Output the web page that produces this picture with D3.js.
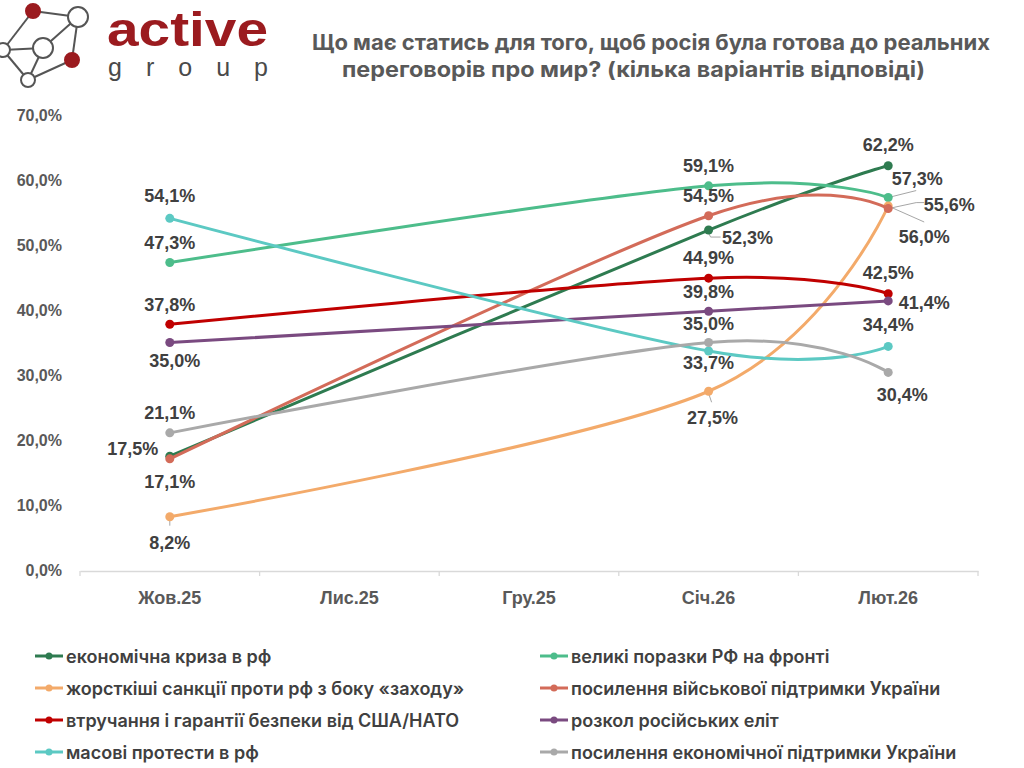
<!DOCTYPE html>
<html>
<head>
<meta charset="utf-8">
<script src="https://cdn.jsdelivr.net/npm/d3@7"></script>
<style>
  body { margin: 0; background: #ffffff; }
</style>
</head>
<body>
<script>
// dati (null = mese senza rilevazione)
var months = ["Жов.25", "Лис.25", "Гру.25", "Січ.26", "Лют.26"];

var seriesNames = [
  "економічна криза в рф",
  "великі поразки РФ на фронті",
  "жорсткіші санкції проти рф з боку «заходу»",
  "посилення військової підтримки України",
  "втручання і гарантії безпеки від США/НАТО",
  "розкол російських еліт",
  "масові протести в рф",
  "посилення економічної підтримки України"
];

var econCrisis     = [17.5, null, null, 52.3, 62.2];
var frontDefeats   = [47.3, null, null, 59.1, 57.3];
var sanctions      = [8.2,  null, null, 27.5, 56.0];
var militaryAid    = [17.1, null, null, 54.5, 55.6];
var usNatoGuar     = [37.8, null, null, 44.9, 42.5];
var eliteSplit     = [35.0, null, null, 39.8, 41.4];
var massProtests   = [54.1, null, null, 33.7, 34.4];
var economicAid    = [21.1, null, null, 35.0, 30.4];

var yTicks = [0, 10, 20, 30, 40, 50, 60, 70];

var allSeries = [econCrisis, frontDefeats, sanctions, militaryAid, usNatoGuar, eliteSplit, massProtests, economicAid];

var colors = ["#2e7b50", "#4dbd8b", "#f3aa6a", "#d36b59", "#c00000", "#7a4a80", "#5cc9c3", "#a9a9a9"];

// posizione delle etichette rispetto al punto [dx, dy, leader?]  (per mese con dato)
var labelPos = [
  [[-37, -7], null, null, [39, 8, [[0, 3], [2, 7], [12, 7]]], [0, -21]],
  [[0, -20], null, null, [0, -20], [29, -19, [[0, 0], [28, -7]]]],
  [[0, 26, [[0, 2], [0, 9]]], null, null, [4, 27, [[0, 2], [3, 11]]], [36, 31, [[0, 0], [36, 16]]]],
  [[0, 23], null, null, [0, -20], [61, -4, [[0, 0], [28, -6], [36, -6]]]],
  [[0, -19], null, null, [0, -20], [0, -21]],
  [[5, 18], null, null, [0, -19], [36, 2]],
  [[0, -22], null, null, [0, 12], [0, -21]],
  [[0, -20], null, null, [0, -19], [14, 23]]
];

var svg = d3.select("body").append("svg")
  .attr("width", 1024)
  .attr("height", 768);

/* logo */
var logo = svg.append("g").attr("class", "logo");
var nodes = [[33, 11, 7, true], [78, 17, 10, false], [3, 50, 7, false], [43, 48, 10, false], [72, 60, 7, true], [28, 80, 7, false]];
var edges = [[0, 1], [0, 2], [1, 3], [1, 4], [2, 3], [3, 5], [2, 5], [5, 4]];
logo.selectAll("line").data(edges).enter().append("line")
  .attr("x1", function(d){ return nodes[d[0]][0]; })
  .attr("y1", function(d){ return nodes[d[0]][1]; })
  .attr("x2", function(d){ return nodes[d[1]][0]; })
  .attr("y2", function(d){ return nodes[d[1]][1]; })
  .style("stroke", "#555").style("stroke-width", 2);
logo.selectAll("circle").data(nodes).enter().append("circle")
  .attr("cx", function(d){ return d[0]; })
  .attr("cy", function(d){ return d[1]; })
  .attr("r", function(d){ return d[2]; })
  .style("fill", function(d){ return d[3] ? "#9b1b1f" : "#fff"; })
  .style("stroke", function(d){ return d[3] ? "#9b1b1f" : "#555"; })
  .style("stroke-width", 2);
logo.append("text").attr("x", 107).attr("y", 46)
  .attr("textLength", 161).attr("lengthAdjust", "spacingAndGlyphs")
  .style("font-family", "Liberation Sans, Arial, sans-serif")
  .style("font-weight", "bold").style("font-size", "48px")
  .style("fill", "#9b1b1f").text("active");
logo.append("text").attr("x", 108).attr("y", 76)
  .attr("textLength", 160).attr("lengthAdjust", "spacing")
  .style("font-family", "Liberation Sans, Arial, sans-serif")
  .style("font-size", "25px")
  .style("fill", "#4a4a4a").text("group");

/* titolo */
var titleLines = [
  ["Що має статись для того, щоб росія була готова до реальних", 312, 50, 678],
  ["переговорів про мир? (кілька варіантів відповіді)", 342, 77, 583]
];
svg.selectAll(".title").data(titleLines).enter().append("text")
  .attr("class", "title")
  .attr("x", function(d){ return d[1]; })
  .attr("y", function(d){ return d[2]; })
  .attr("textLength", function(d){ return d[3]; })
  .attr("lengthAdjust", "spacingAndGlyphs")
  .style("font-family", "Inter, sans-serif")
  .style("font-weight", "bold").style("font-size", "21px")
  .style("fill", "#595959")
  .text(function(d){ return d[0]; });

/* scale */
var x = d3.scaleBand().domain(months).range([80, 978]);
var y = d3.scaleLinear().domain([0, 70]).range([570, 115]);
function cx(m){ return x(m) + x.bandwidth() / 2; }

var locale = d3.formatLocale({decimal: ",", thousands: " ", grouping: [3], currency: ["", ""]});
var fmt = locale.format(".1f");

/* asse y (solo etichette) */
svg.selectAll(".ytick").data(yTicks).enter().append("text")
  .attr("class", "ytick")
  .attr("x", 62)
  .attr("y", function(d){ return y(d); })
  .attr("text-anchor", "end")
  .attr("dominant-baseline", "central")
  .style("font-family", "Liberation Sans, Arial, sans-serif")
  .style("font-weight", "bold").style("font-size", "16px")
  .style("fill", "#595959")
  .text(function(d){ return fmt(d) + "%"; });

/* asse x */
var xAxis = svg.append("g").attr("transform", "translate(0, 571)")
  .call(d3.axisBottom(x).tickSize(0).tickPadding(20));
xAxis.select(".domain").style("stroke", "#d9d9d9").style("stroke-width", 1.3);
xAxis.selectAll("text")
  .style("font-family", "Liberation Sans, Arial, sans-serif")
  .style("font-weight", "bold").style("font-size", "18px")
  .style("fill", "#595959");
var bounds = months.map(function(m){ return x(m); }).concat([x(months[months.length - 1]) + x.bandwidth()]);
xAxis.selectAll(".sep").data(bounds).enter().append("line")
  .attr("class", "sep")
  .attr("x1", function(d){ return d; }).attr("x2", function(d){ return d; })
  .attr("y1", 0).attr("y2", 5)
  .style("stroke", "#d9d9d9").style("stroke-width", 1.3);

/* linee */
var line = d3.line()
  .x(function(d){ return cx(d.m); })
  .y(function(d){ return y(d.v); })
  .curve(d3.curveCardinal.tension(0));

var g_series = svg.selectAll(".serie").data(allSeries).enter().append("g").attr("class", "serie");

g_series.append("path")
  .attr("d", function(s){
    var pts = s.map(function(v, i){ return {m: months[i], v: v}; }).filter(function(p){ return p.v !== null; });
    return line(pts);
  })
  .style("fill", "none")
  .style("stroke", function(s, i){ return colors[i]; })
  .style("stroke-width", 3)
  .style("stroke-linecap", "round");

g_series.each(function(s, si){
  var g = d3.select(this);
  s.forEach(function(v, i){
    if (v === null) return;
    var px = cx(months[i]), py = y(v);
    var lp = labelPos[si][i];
    if (lp[2]) {
      g.append("polyline")
        .attr("points", lp[2].map(function(p){ return (px + p[0]) + "," + (py + p[1]); }).join(" "))
        .style("fill", "none").style("stroke", "#a6a6a6").style("stroke-width", 1);
    }
    g.append("circle").attr("cx", px).attr("cy", py).attr("r", 4.5)
      .style("fill", colors[si]);
    g.append("text")
      .attr("x", px + lp[0]).attr("y", py + lp[1])
      .attr("text-anchor", "middle")
      .attr("dominant-baseline", "central")
      .style("font-family", "Liberation Sans, Arial, sans-serif")
      .style("font-weight", "bold").style("font-size", "18px")
      .style("fill", "#404040")
      .text(fmt(v) + "%");
  });
});

/* legenda */
var legend = svg.selectAll(".leg").data(seriesNames).enter().append("g")
  .attr("class", "leg")
  .attr("transform", function(d, i){ return `translate(${i % 2 ? 540 : 35}, ${656 + Math.floor(i / 2) * 32})`; });
legend.append("line").attr("x1", 0).attr("x2", 28).attr("y1", 0).attr("y2", 0)
  .style("stroke", function(d, i){ return colors[i]; }).style("stroke-width", 3);
legend.append("circle").attr("cx", 14).attr("cy", 0).attr("r", 3.5)
  .style("fill", function(d, i){ return colors[i]; });
legend.append("text").attr("x", 31).attr("y", 0)
  .attr("dominant-baseline", "central")
  .style("font-family", "Inter, sans-serif")
  .style("font-weight", "600").style("font-size", "18px")
  .style("fill", "#404040")
  .text(function(d){ return d; });
</script>
</body>
</html>
